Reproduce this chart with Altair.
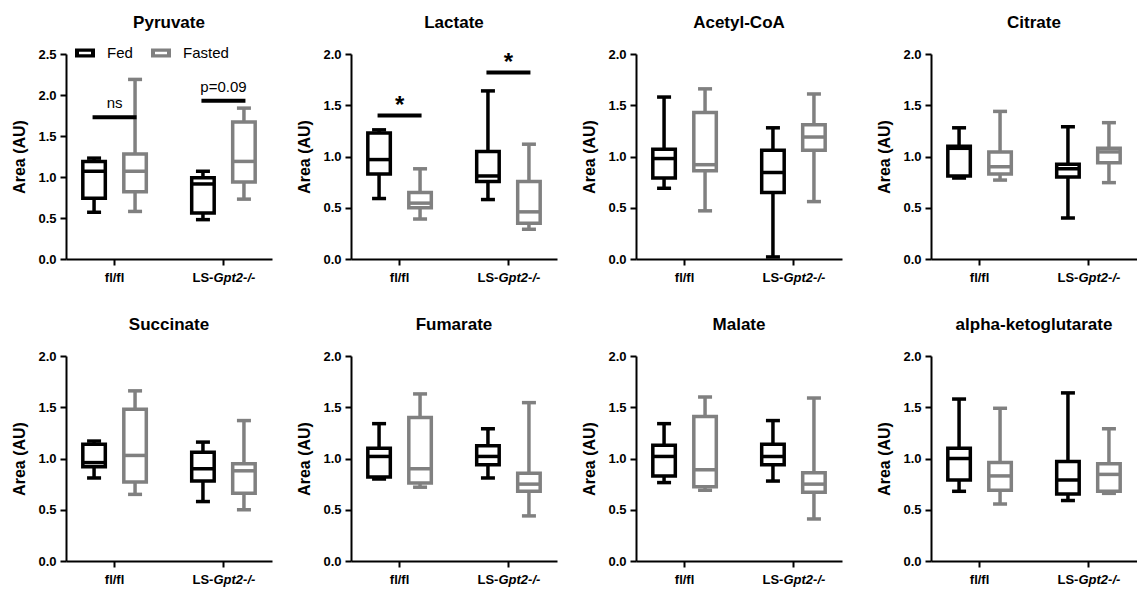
import altair as alt
import pandas as pd

FONT = "Liberation Sans, Arial, Helvetica, sans-serif"

metabolites = ["Pyruvate", "Lactate", "Acetyl-CoA", "Citrate",
               "Succinate", "Fumarate", "Malate", "alpha-ketoglutarate"]
genotypes = ["fl/fl", "LS-Gpt2-/-"]
conditions = ["Fed", "Fasted"]
colors = ["#000000", "#808080"]

# group order inside each list: fl/fl Fed, fl/fl Fasted, LS Fed, LS Fasted
group_genotype = ["fl/fl", "fl/fl", "LS-Gpt2-/-", "LS-Gpt2-/-"]
group_condition = ["Fed", "Fasted", "Fed", "Fasted"]

whisker_min = {
    "Pyruvate": [0.57, 0.58, 0.48, 0.73],
    "Lactate": [0.59, 0.39, 0.58, 0.29],
    "Acetyl-CoA": [0.69, 0.47, 0.02, 0.56],
    "Citrate": [0.79, 0.77, 0.40, 0.745],
    "Succinate": [0.81, 0.65, 0.58, 0.50],
    "Fumarate": [0.80, 0.72, 0.81, 0.44],
    "Malate": [0.765, 0.69, 0.78, 0.41],
    "alpha-ketoglutarate": [0.68, 0.556, 0.59, 0.66],
}
quartile1 = {
    "Pyruvate": [0.74, 0.82, 0.56, 0.94],
    "Lactate": [0.83, 0.50, 0.755, 0.35],
    "Acetyl-CoA": [0.79, 0.86, 0.65, 1.06],
    "Citrate": [0.81, 0.83, 0.80, 0.94],
    "Succinate": [0.92, 0.77, 0.78, 0.66],
    "Fumarate": [0.82, 0.76, 0.94, 0.68],
    "Malate": [0.83, 0.725, 0.94, 0.67],
    "alpha-ketoglutarate": [0.79, 0.69, 0.654, 0.68],
}
medians = {
    "Pyruvate": [1.07, 1.07, 0.915, 1.19],
    "Lactate": [0.97, 0.545, 0.81, 0.46],
    "Acetyl-CoA": [0.98, 0.92, 0.845, 1.19],
    "Citrate": [1.08, 0.90, 0.88, 1.045],
    "Succinate": [0.96, 1.03, 0.90, 0.88],
    "Fumarate": [1.02, 0.90, 1.02, 0.75],
    "Malate": [1.02, 0.89, 1.02, 0.75],
    "alpha-ketoglutarate": [1.00, 0.83, 0.79, 0.845],
}
quartile3 = {
    "Pyruvate": [1.19, 1.28, 0.99, 1.67],
    "Lactate": [1.23, 0.65, 1.05, 0.755],
    "Acetyl-CoA": [1.07, 1.43, 1.06, 1.31],
    "Citrate": [1.10, 1.045, 0.925, 1.08],
    "Succinate": [1.14, 1.48, 1.06, 0.95],
    "Fumarate": [1.10, 1.40, 1.125, 0.855],
    "Malate": [1.13, 1.41, 1.14, 0.86],
    "alpha-ketoglutarate": [1.10, 0.96, 0.97, 0.95],
}
whisker_max = {
    "Pyruvate": [1.23, 2.19, 1.07, 1.84],
    "Lactate": [1.26, 0.88, 1.64, 1.12],
    "Acetyl-CoA": [1.58, 1.66, 1.28, 1.61],
    "Citrate": [1.28, 1.44, 1.29, 1.33],
    "Succinate": [1.17, 1.66, 1.16, 1.37],
    "Fumarate": [1.34, 1.63, 1.29, 1.545],
    "Malate": [1.34, 1.60, 1.37, 1.59],
    "alpha-ketoglutarate": [1.58, 1.49, 1.64, 1.29],
}
y_max = {m: 2.0 for m in metabolites}
y_max["Pyruvate"] = 2.5

# significance annotations
ann_metabolite = ["Pyruvate", "Pyruvate", "Lactate", "Lactate"]
ann_genotype = ["fl/fl", "LS-Gpt2-/-", "fl/fl", "LS-Gpt2-/-"]
ann_bar = [1.73, 1.93, 1.40, 1.82]
ann_label = ["ns", "p=0.09", "*", "*"]
ann_label_y = [1.84, 2.04, 1.42, 1.84]

# x tick label pieces (second piece is italic)
label_genotype = ["fl/fl", "LS-Gpt2-/-"]
label_plain = ["fl/fl", "LS-"]
label_italic = ["", "Gpt2-/-"]

rows = []
for m in metabolites:
    for i in range(4):
        rows.append({
            "metabolite": m,
            "genotype": group_genotype[i],
            "condition": group_condition[i],
            "wmin": whisker_min[m][i],
            "q1": quartile1[m][i],
            "median": medians[m][i],
            "q3": quartile3[m][i],
            "wmax": whisker_max[m][i],
        })
stats = pd.DataFrame(rows)
ann = pd.DataFrame({"metabolite": ann_metabolite, "genotype": ann_genotype,
                    "bar": ann_bar, "label": ann_label, "label_y": ann_label_y})
labs = pd.DataFrame({"genotype": label_genotype, "plain": label_plain,
                     "italic": label_italic})

W, H = 206, 205
HOLLOW_BOX = "M-1,-0.44H1V0.44H-1Z M-0.6,-0.12V0.12H0.6V-0.12Z"


def panel(m):
    d = stats[stats.metabolite == m]
    ymax = y_max[m]
    ticks = [round(0.5 * k, 1) for k in range(int(ymax / 0.5) + 1)]
    yscale = alt.Scale(domain=[0, ymax], nice=False, zero=True)
    yaxis = alt.Axis(values=ticks, format=".1f", title="Area (AU)",
                     titleFontSize=16, titlePadding=10, labelPadding=4,
                     tickSize=6)
    xaxis = alt.Axis(title=None, labels=False, tickSize=6)
    xscale = alt.Scale(domain=genotypes, paddingInner=0.247, paddingOuter=0.0695)

    def X():
        return alt.X("genotype:N", sort=genotypes, scale=xscale, axis=xaxis)

    def Y(f):
        return alt.Y(f"{f}:Q", scale=yscale, axis=yaxis)

    xo = alt.XOffset("condition:N", sort=conditions,
                     scale=alt.Scale(domain=conditions, paddingInner=0, paddingOuter=0))
    cscale = alt.Scale(domain=conditions, range=colors)
    col = alt.Color("condition:N", scale=cscale, legend=None)

    if m == "Pyruvate":
        leg = alt.Legend(orient="none", legendX=9, legendY=-11, direction="horizontal",
                         title=None, symbolType=HOLLOW_BOX, symbolSize=400,
                         symbolStrokeWidth=0, labelFontSize=15,
                         labelFontWeight="normal", labelFont=FONT,
                         labelColor="black", columnPadding=18, labelOffset=12)
        wcol = alt.Color("condition:N", scale=cscale, legend=leg)
    else:
        wcol = col

    base = alt.Chart(d)
    whisk = base.mark_rule(strokeWidth=3.5).encode(
        x=X(), xOffset=xo, y=Y("wmin"), y2="wmax:Q", color=wcol)
    cap_lo = base.mark_tick(orient="horizontal", size=14, thickness=3.5, opacity=1).encode(
        x=X(), xOffset=xo, y=Y("wmin"), color=col)
    cap_hi = base.mark_tick(orient="horizontal", size=14, thickness=3.5, opacity=1).encode(
        x=X(), xOffset=xo, y=Y("wmax"), color=col)
    box = base.mark_bar(size=22.5, fill="white", strokeWidth=3.5).encode(
        x=X(), xOffset=xo, y=Y("q1"), y2="q3:Q",
        stroke=alt.Stroke("condition:N", scale=cscale, legend=None))
    med = base.mark_tick(orient="horizontal", size=22.5, thickness=3.5, opacity=1).encode(
        x=X(), xOffset=xo, y=Y("median"), color=col)

    lab_base = alt.Chart(labs)
    lab1 = lab_base.transform_filter(alt.datum.genotype == "fl/fl").mark_text(
        align="center", baseline="middle", fontSize=13, fontWeight="bold",
        font=FONT, color="black").encode(x=X(), y=alt.value(H + 19), text="plain:N")
    lab2 = lab_base.transform_filter(alt.datum.genotype == "LS-Gpt2-/-").mark_text(
        align="right", baseline="middle", dx=-10, fontSize=13, fontWeight="bold",
        font=FONT, color="black").encode(x=X(), y=alt.value(H + 19), text="plain:N")
    lab3 = lab_base.transform_filter(alt.datum.genotype == "LS-Gpt2-/-").mark_text(
        align="left", baseline="middle", dx=-10, fontSize=13, fontWeight="bold",
        fontStyle="italic", font=FONT, color="black").encode(
        x=X(), y=alt.value(H + 19), text="italic:N")

    layers = [whisk, cap_lo, cap_hi, box, med]
    a = ann[ann.metabolite == m]
    if len(a):
        abase = alt.Chart(a)
        bars = abase.mark_tick(orient="horizontal", size=44, thickness=4,
                               color="black", opacity=1).encode(x=X(), y=Y("bar"))
        layers.append(bars)
        if m == "Pyruvate":
            txt = abase.mark_text(baseline="alphabetic", fontSize=15, font=FONT,
                                  color="black").encode(x=X(), y=Y("label_y"), text="label:N")
        else:
            txt = abase.mark_text(baseline="alphabetic", fontSize=24, fontWeight="bold",
                                  font=FONT, color="black").encode(
                x=X(), y=Y("label_y"), text="label:N")
        layers.append(txt)
    layers += [lab1, lab2, lab3]

    offset = 11 if m == "Pyruvate" else 16
    return alt.layer(*layers).properties(
        width=W, height=H,
        title=alt.TitleParams(text=m, fontSize=17, fontWeight="bold", font=FONT,
                              color="black", offset=offset, frame="group",
                              anchor="middle"))


def make_row(names):
    first = alt.hconcat(*[panel(m) for m in names[:3]], spacing=24).resolve_scale(
        color="independent", stroke="independent").resolve_legend(
        color="independent", stroke="independent")
    return alt.hconcat(first, panel(names[3]), spacing=34).resolve_scale(
        color="independent", stroke="independent").resolve_legend(
        color="independent", stroke="independent")


row1 = make_row(metabolites[:4])
row2 = make_row(metabolites[4:])

chart = alt.vconcat(row1, row2, spacing=31).resolve_scale(
    color="independent", stroke="independent"
).resolve_legend(color="independent", stroke="independent").properties(
    padding={"left": 3, "top": 6, "right": 0, "bottom": 2}
).configure_view(stroke=None).configure_axis(
    domainColor="black", domainWidth=2, tickColor="black", tickWidth=2,
    labelFont=FONT, labelFontWeight="bold", labelFontSize=13, labelColor="black",
    titleFont=FONT, titleFontWeight="bold", titleColor="black", grid=False
)

chart.save("out.html", embed_options={"renderer": "svg", "actions": False})
